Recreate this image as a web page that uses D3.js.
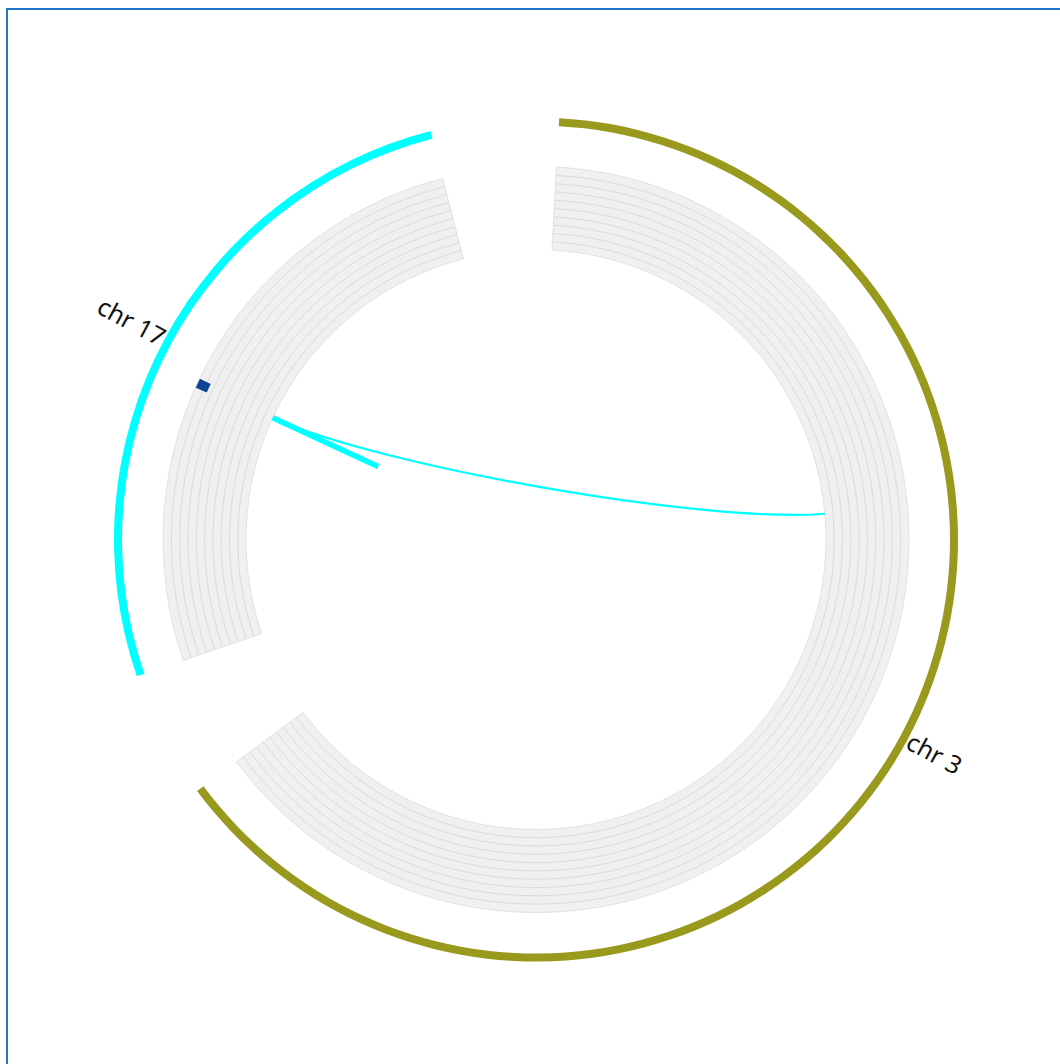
<!DOCTYPE html>
<html>
<head>
<meta charset="utf-8">
<script src="https://cdn.jsdelivr.net/npm/d3@7"></script>
<style>
  html, body { margin: 0; padding: 0; background: #fff; overflow: hidden; }
  svg { display: block; }
</style>
</head>
<body>
<svg id="chart" width="1060" height="1064"></svg>
<script>
// ---- data ----
const chromosomes = ["chr3", "chr17"];
const chromLabels = ["chr 3", "chr 17"];
const chromLengths = [198022430, 81195210];
const chromColors = ["#99991e", "#00ffff"];

// heatmap track: number of rows, and the one coloured cell
const heatRows = 10;
const heatCellChrom = ["chr17"];
const heatCellStart = [36950000];
const heatCellEnd = [38250000];
const heatCellRowFrom = [8.5];
const heatCellRowTo = [10];
const heatCellColor = ["#0b4494"];

// link
const linkSourceChrom = ["chr17"];
const linkSourcePos = [37600000];
const linkTargetChrom = ["chr3"];
const linkTargetPos = [70300000];
const linkColor = "#00ffff";

// ---- layout ----
const cx = 536, cy = 539.5;
const startDeg = 3.15, gapDeg = 17.65;
const ringInner = 414, ringOuter = 422;
const trackInner = 290, trackOuter = 373;
const rad = d => d * Math.PI / 180;

const svg = d3.select("#chart");
svg.append("rect").attr("x", 7).attr("y", 9).attr("width", 1200).attr("height", 1200)
  .attr("fill", "none").attr("stroke", "#2176c7").attr("stroke-width", 2);

const g = svg.append("g").attr("transform", `translate(${cx},${cy})`);

const total = d3.sum(chromLengths);
const avail = 360 - gapDeg * chromosomes.length;
const chromScale = {};
let cur = startDeg;
chromosomes.forEach((c, i) => {
  const span = avail * chromLengths[i] / total;
  chromScale[c] = d3.scaleLinear().domain([0, chromLengths[i]]).range([cur, cur + span]);
  cur += span + gapDeg;
});

const arc = d3.arc();

// ideogram ring
chromosomes.forEach((c, i) => {
  const [a0, a1] = chromScale[c].range();
  g.append("path")
    .attr("d", arc({innerRadius: ringInner, outerRadius: ringOuter, startAngle: rad(a0), endAngle: rad(a1)}))
    .attr("fill", chromColors[i]);
});

// heatmap background bands
const rowScale = d3.scaleLinear().domain([0, heatRows]).range([trackInner, trackOuter]);
chromosomes.forEach((c) => {
  const [a0, a1] = chromScale[c].range();
  d3.range(heatRows).forEach(r => {
    g.append("path")
      .attr("d", arc({innerRadius: rowScale(r), outerRadius: rowScale(r + 1), startAngle: rad(a0), endAngle: rad(a1)}))
      .attr("fill", "#f0f0f0").attr("stroke", "#d4d4d4").attr("stroke-width", 0.6);
  });
});

// heat cells
heatCellChrom.forEach((c, i) => {
  const s = chromScale[c];
  g.append("path")
    .attr("d", arc({innerRadius: rowScale(heatCellRowFrom[i]), outerRadius: rowScale(heatCellRowTo[i]) - 0.5,
      startAngle: rad(s(heatCellStart[i])), endAngle: rad(s(heatCellEnd[i]))}))
    .attr("fill", heatCellColor[i]);
});

// links
const pt = (deg, r) => [r * Math.sin(rad(deg)), -r * Math.cos(rad(deg))];
linkSourceChrom.forEach((c, i) => {
  const a0 = chromScale[c](linkSourcePos[i]);
  const a1 = chromScale[linkTargetChrom[i]](linkTargetPos[i]);
  const p0 = pt(a0, trackInner), p2 = pt(a1, trackInner);
  const c1 = pt(a0, trackInner * 0.6), c2 = pt(a1, trackInner * 0.6);
  g.append("path")
    .attr("d", `M${p0[0]},${p0[1]}L${c1[0]},${c1[1]}`)
    .attr("stroke", linkColor).attr("stroke-width", 5.5).attr("fill", "none");
  const p = d3.path();
  p.moveTo(p0[0], p0[1]);
  p.bezierCurveTo(c1[0], c1[1], c2[0], c2[1], p2[0], p2[1]);
  g.append("path").attr("d", p.toString())
    .attr("stroke", linkColor).attr("stroke-width", 2.2).attr("fill", "none");
});

// labels
chromosomes.forEach((c, i) => {
  const [a0, a1] = chromScale[c].range();
  const mid = (a0 + a1) / 2;
  const [x, y] = pt(mid, 423);
  const right = mid < 180;
  g.append("text")
    .attr("transform", `translate(${x},${y}) rotate(${right ? mid - 90 : mid - 270})`)
    .attr("text-anchor", right ? "start" : "end")
    .attr("dy", "0.35em")
    .attr("font-family", "'Noto Sans', sans-serif")
    .attr("font-size", 25)
    .attr("fill", "#111")
    .text(chromLabels[i]);
});
</script>
</body>
</html>
